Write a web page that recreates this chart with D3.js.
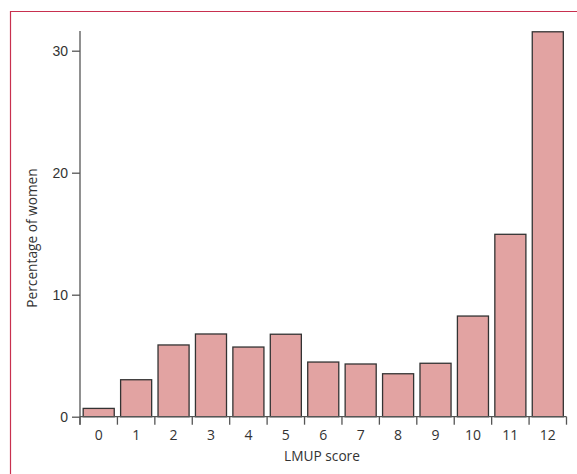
<!DOCTYPE html>
<html>
<head>
<meta charset="utf-8">
<script src="https://cdn.jsdelivr.net/npm/d3@7"></script>
<style>
	body { margin: 0; background: #fff; }
	svg { font-family: "Open Sans", sans-serif; }
	.axis path, .axis line { stroke: #555; stroke-width: 1.3; }
	.axis text { fill: #333; font-size: 14px; }
</style>
</head>
<body>
<script>
var scores = ["0","1","2","3","4","5","6","7","8","9","10","11","12"];
var percentages = [0.68, 3.03, 5.88, 6.78, 5.71, 6.76, 4.48, 4.32, 3.52, 4.38, 8.25, 14.95, 31.55];
var yTicks = [0, 10, 20, 30];

var width = 577, height = 474;
var x0 = 80, x1 = 566.5, yBase = 416.7, yTop = 31;

var svg = d3.select("body").append("svg").attr("width", width).attr("height", height);

// frame, top and left only
svg.append("path").attr("d", "M10.5," + height + "V11.5H" + width)
	.attr("fill", "none").attr("stroke", "#c8304f").attr("stroke-width", 1.2);

var x = d3.scaleBand().domain(scores).range([x0, x1]).paddingInner(0.17).paddingOuter(0.085);
var y = d3.scaleLinear().domain([0, 30]).range([yBase, yBase - 366]);

svg.selectAll(".bar").data(percentages).enter().append("rect").attr("class", "bar")
	.attr("x", function(d, i){ return x(scores[i]); })
	.attr("width", x.bandwidth())
	.attr("y", function(d){ return y(d); })
	.attr("height", function(d){ return yBase - y(d); })
	.attr("fill", "#e2a3a2").attr("stroke", "#333").attr("stroke-width", 1.3);

// y axis
var gy = svg.append("g").attr("class", "axis").attr("transform", "translate(" + x0 + ",0)")
	.call(d3.axisLeft(y).tickValues(yTicks).tickSize(8).tickPadding(4));
gy.select(".domain").remove();
gy.append("line").attr("x1", 0).attr("x2", 0).attr("y1", yTop).attr("y2", yBase + 8);

// x axis: ticks at band edges, labels centred in bands
var gx = svg.append("g").attr("class", "axis").attr("transform", "translate(0," + yBase + ")");
gx.append("line").attr("x1", x0).attr("x2", x1).attr("y1", 0).attr("y2", 0);
gx.selectAll(".edge").data(d3.range(scores.length + 1)).enter().append("line").attr("class", "edge")
	.attr("x1", function(d){ return x0 + d * (x1 - x0) / scores.length; })
	.attr("x2", function(d){ return x0 + d * (x1 - x0) / scores.length; })
	.attr("y1", 0).attr("y2", 8);
gx.selectAll(".lab").data(scores).enter().append("text").attr("class", "lab")
	.attr("x", function(d){ return x(d) + x.bandwidth() / 2; })
	.attr("y", 23).attr("text-anchor", "middle").text(function(d){ return d; });

svg.append("text").attr("x", 322).attr("y", 460.5).attr("text-anchor", "middle")
	.attr("font-size", 13.7).attr("fill", "#333").text("LMUP score");

svg.append("text").attr("transform", "translate(36.5,238) rotate(-90)").attr("text-anchor", "middle")
	.attr("font-size", 13.7).attr("fill", "#333").text("Percentage of women");
</script>
</body>
</html>
